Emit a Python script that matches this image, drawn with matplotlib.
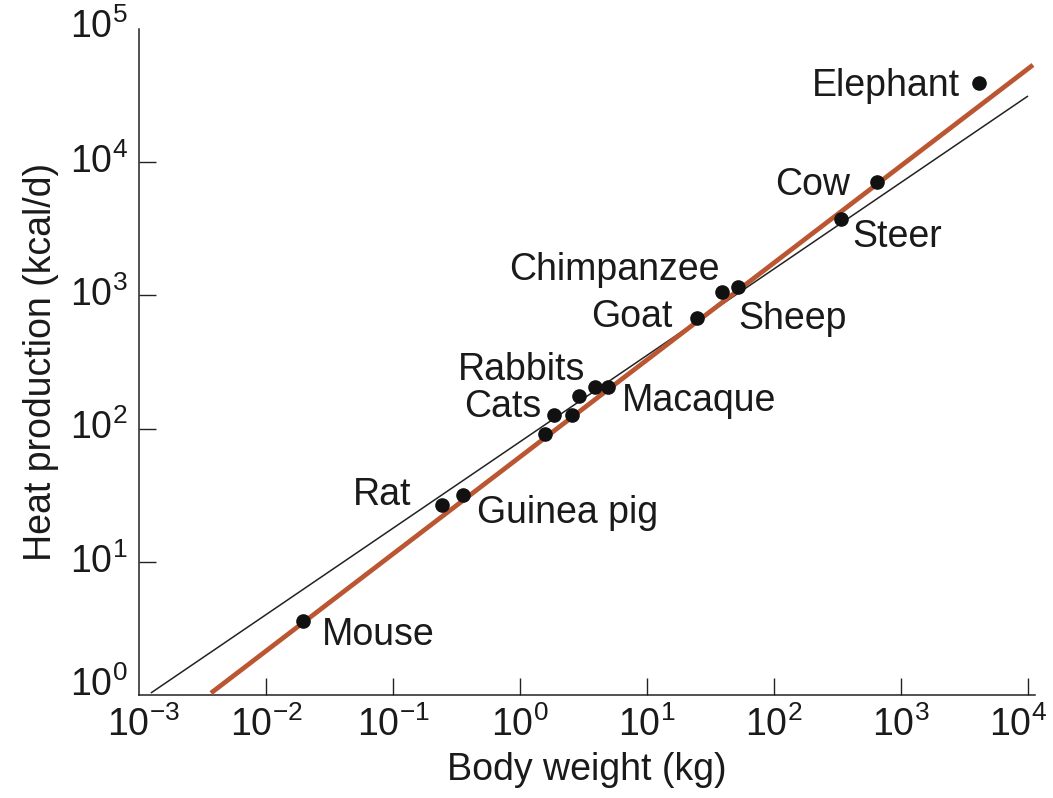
import math

import matplotlib
matplotlib.use('Agg')
from matplotlib import pyplot as plt
from matplotlib.ticker import FixedLocator, FuncFormatter, NullLocator
from matplotlib.transforms import ScaledTranslation

# body weight (kg) and heat production (kcal/d)
mass = [0.0195, 0.243, 0.356, 1.57, 1.85, 2.57, 2.92, 3.90, 4.93,
        24.8, 39.0, 52.1, 337, 647, 4110]
heat = [3.6, 26.7, 31.7, 91, 126, 126, 176, 205, 205,
        676, 1060, 1156, 3750, 7100, 39300]
names = ['Mouse', 'Rat', 'Guinea pig', '', 'Cats', '', 'Rabbits', '', 'Macaque',
         'Goat', 'Chimpanzee', 'Sheep', 'Steer', 'Cow', 'Elephant']

# the two fitted lines, end points
red_x = [0.00369, 10940]
red_y = [1.035, 53700]
black_x = [0.00124, 10000]
black_y = [1.035, 31400]

# label placement: (dx px, dy px, ha)
offsets = {
    'Mouse': (19, -10, 'left'),
    'Rat': (-31, 14, 'right'),
    'Guinea pig': (14, -14, 'left'),
    'Cats': (-13, 12, 'right'),
    'Rabbits': (6, 30, 'right'),
    'Macaque': (14, -10, 'left'),
    'Goat': (-25, 5, 'right'),
    'Chimpanzee': (-2, 26, 'right'),
    'Sheep': (0, -28, 'left'),
    'Steer': (11, -14, 'left'),
    'Cow': (-27, 1, 'right'),
    'Elephant': (-19, 1, 'right'),
}

plt.rcParams['font.family'] = ['Liberation Sans', 'DejaVu Sans']
plt.rcParams['mathtext.fontset'] = 'custom'
plt.rcParams['mathtext.rm'] = 'Liberation Sans'
plt.rcParams['mathtext.it'] = 'Liberation Sans:italic'
plt.rcParams['mathtext.bf'] = 'Liberation Sans:bold'
FS = 27

fig = plt.figure(figsize=(10.53, 7.98), dpi=100)
ax = fig.add_axes([139 / 1053, 1 - 695 / 798, (1035 - 139) / 1053, (695 - 29) / 798])
ax.set_xscale('log')
ax.set_yscale('log')
ax.set_xlim(1e-3, 10 ** (4 + 7 / 127))
ax.set_ylim(1, 1e5)

ax.plot(black_x, black_y, color='#222222', lw=1.1, solid_capstyle='butt', zorder=2)
ax.plot(red_x, red_y, color='#BA5632', lw=3.4, solid_capstyle='butt', zorder=3)
ax.plot(mass, heat, 'o', color='#111111', ms=9.5, zorder=4)

for x, y, name in zip(mass, heat, names):
    if not name:
        continue
    dx, dy, ha = offsets[name]
    ax.annotate(name, (x, y), xytext=(dx, dy), textcoords='offset pixels',
                ha=ha, va='center_baseline', fontsize=FS, color='#1a1a1a')

for side in ('top', 'right'):
    ax.spines[side].set_visible(False)
for side in ('left', 'bottom'):
    ax.spines[side].set_linewidth(1.1)
    ax.spines[side].set_color('#222222')


def fmt(v, pos):
    e = int(round(math.log10(v)))
    s = str(e).replace('-', '\u2212')
    return r'$\mathregular{10^{%s}}$' % s


xticks = [10.0 ** e for e in range(-3, 5)]
yticks = [10.0 ** e for e in range(0, 6)]
ax.xaxis.set_major_locator(FixedLocator(xticks))
ax.yaxis.set_major_locator(FixedLocator(yticks))
ax.xaxis.set_minor_locator(NullLocator())
ax.yaxis.set_minor_locator(NullLocator())
ax.xaxis.set_major_formatter(FuncFormatter(fmt))
ax.yaxis.set_major_formatter(FuncFormatter(fmt))
ax.tick_params(direction='in', length=12, width=1.0, color='#222222',
               labelsize=FS, labelcolor='#1a1a1a', pad=8)

xt = ax.xaxis.get_major_ticks()
yt = ax.yaxis.get_major_ticks()
# no tick marks at the corner and the top end (labels stay)
xt[0].tick1line.set_visible(False)
yt[0].tick1line.set_visible(False)
yt[-1].tick1line.set_visible(False)


def nudge(label, dx, dy):
    label.set_transform(label.get_transform() + ScaledTranslation(dx / 100, dy / 100, fig.dpi_scale_trans))


for t in yt:
    nudge(t.label1, 0, 4)
nudge(yt[0].label1, 0, 10)
nudge(yt[-1].label1, 0, 2)
nudge(xt[-1].label1, -10, 0)
nudge(xt[0].label1, 4, 0)

ax.set_xlabel('Body weight (kg)', fontsize=FS, color='#1a1a1a', labelpad=6)
ax.set_ylabel('Heat production (kcal/d)', fontsize=FS, color='#1a1a1a', labelpad=8)

fig.savefig('out.png', dpi=100)
